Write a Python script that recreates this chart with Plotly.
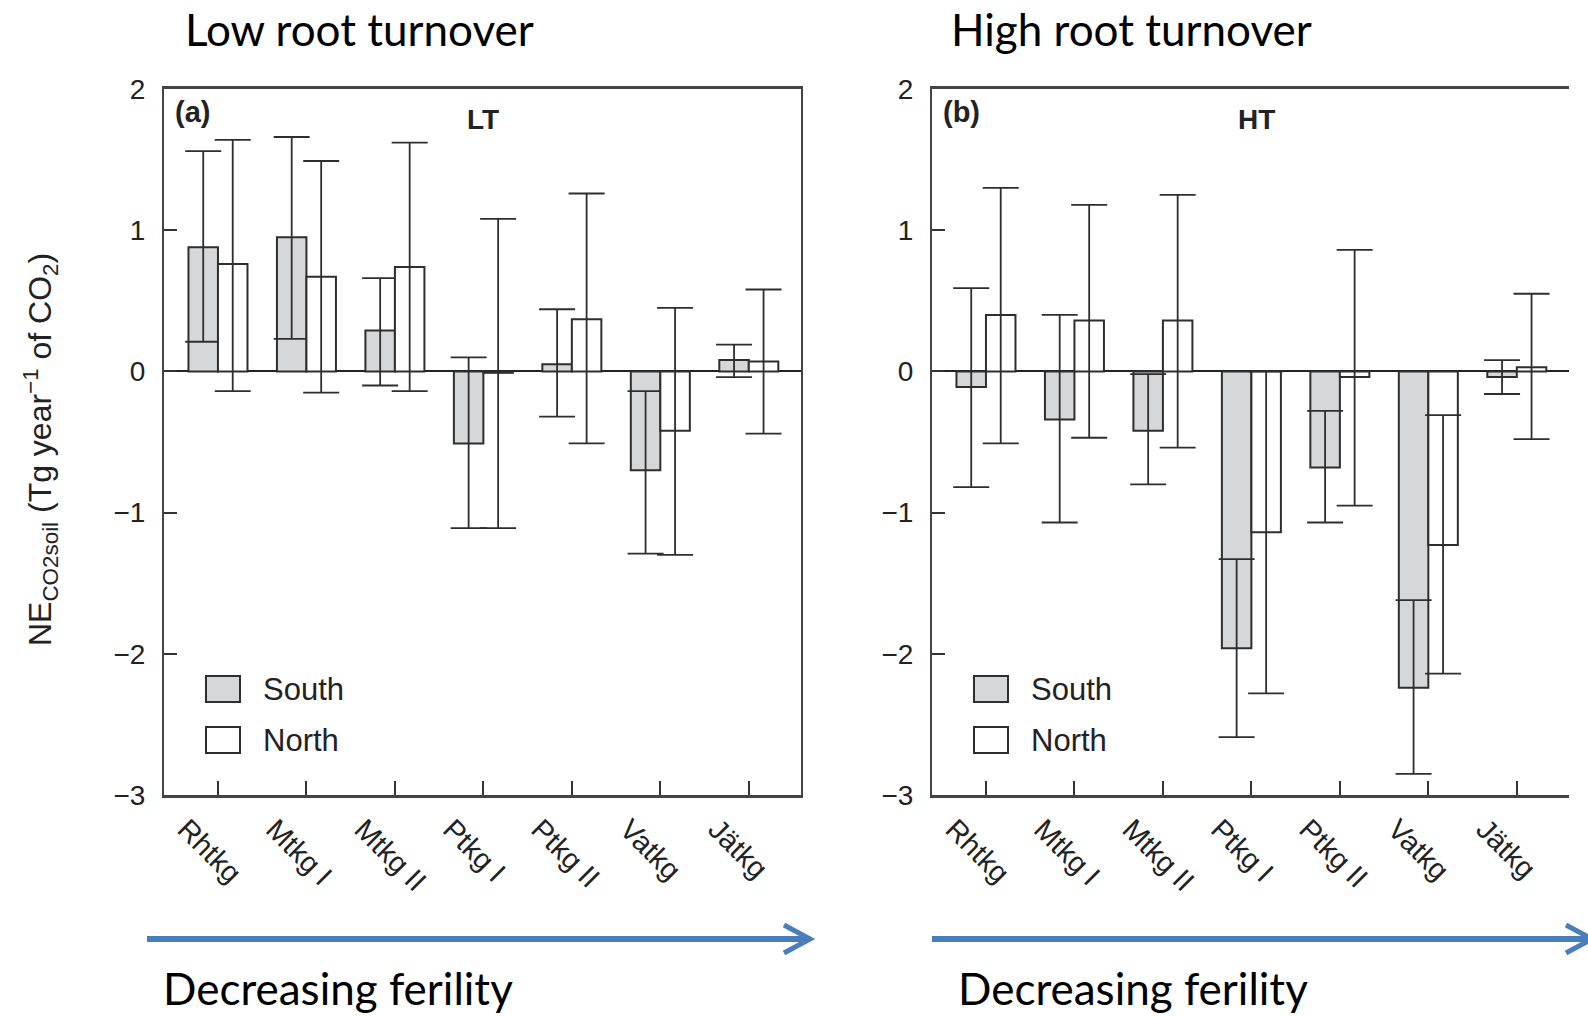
import plotly.graph_objects as go

categories = ["Rhtkg", "Mtkg I", "Mtkg II", "Ptkg I", "Ptkg II", "Vatkg", "Jätkg"]
y_ticks = [-3, -2, -1, 0, 1, 2]

# Panel (a) LT - low root turnover
lt_south = [0.88, 0.95, 0.29, -0.51, 0.05, -0.70, 0.08]
lt_south_hi = [1.56, 1.66, 0.66, 0.10, 0.44, -0.14, 0.19]
lt_south_lo = [0.21, 0.23, -0.10, -1.11, -0.32, -1.29, -0.04]
lt_north = [0.76, 0.67, 0.74, -0.01, 0.37, -0.42, 0.07]
lt_north_hi = [1.64, 1.49, 1.62, 1.08, 1.26, 0.45, 0.58]
lt_north_lo = [-0.14, -0.15, -0.14, -1.11, -0.51, -1.30, -0.44]

# Panel (b) HT - high root turnover
ht_south = [-0.11, -0.34, -0.42, -1.96, -0.68, -2.24, -0.04]
ht_south_hi = [0.59, 0.40, -0.02, -1.33, -0.28, -1.62, 0.08]
ht_south_lo = [-0.82, -1.07, -0.80, -2.59, -1.07, -2.85, -0.16]
ht_north = [0.40, 0.36, 0.36, -1.14, -0.04, -1.23, 0.03]
ht_north_hi = [1.30, 1.18, 1.25, 0.00, 0.86, -0.31, 0.55]
ht_north_lo = [-0.51, -0.47, -0.54, -2.28, -0.95, -2.14, -0.48]

W, H = 1588, 1017
FONT = "Arial, Liberation Sans, sans-serif"
TITLE_FONT = "Lato, Open Sans, sans-serif"
SOUTH_FILL = "#d6d7d9"
EDGE = "#2e2e2e"
ARROW = "#4a7dbb"


def px(x):
    return x / W


def py(y):
    return 1 - y / H


def bar_trace(vals, hi, lo, fill, name, xa, ya):
    plus = [h - v for h, v in zip(hi, vals)]
    minus = [v - l for v, l in zip(vals, lo)]
    return go.Bar(
        x=categories, y=vals, name=name, xaxis=xa, yaxis=ya,
        marker=dict(color=fill, line=dict(color=EDGE, width=2)),
        error_y=dict(type="data", symmetric=False, array=plus, arrayminus=minus,
                     color=EDGE, thickness=1.8, width=18),
        showlegend=False,
    )


fig = go.Figure()
fig.add_trace(bar_trace(lt_south, lt_south_hi, lt_south_lo, SOUTH_FILL, "South", "x", "y"))
fig.add_trace(bar_trace(lt_north, lt_north_hi, lt_north_lo, "white", "North", "x", "y"))
fig.add_trace(bar_trace(ht_south, ht_south_hi, ht_south_lo, SOUTH_FILL, "South", "x2", "y2"))
fig.add_trace(bar_trace(ht_north, ht_north_hi, ht_north_lo, "white", "North", "x2", "y2"))

xcommon = dict(
    type="category", range=[-0.61, 6.59], showline=True, linecolor="#444", linewidth=2.5,
    mirror=True, ticks="inside", ticklen=14, tickwidth=1.5, tickcolor="#333",
    tickangle=45, tickfont=dict(family=FONT, size=29, color="#222"),
    ticklabelshift=-32, ticklabelstandoff=3,
    showgrid=False, zeroline=False, automargin=False,
)
ycommon = dict(
    range=[-3, 2], tickvals=y_ticks, showline=True, linecolor="#444", linewidth=2,
    ticks="inside", ticklen=13, tickwidth=1.5, tickcolor="#333",
    tickfont=dict(family=FONT, size=28, color="#222"), ticklabelstandoff=11,
    showgrid=False, zeroline=True, zerolinecolor="#222", zerolinewidth=1.8,
    automargin=False,
)

ydom = [py(795), py(89)]
fig.update_layout(
    width=W, height=H, autosize=False,
    margin=dict(l=0, r=0, t=0, b=0, pad=0, autoexpand=False),
    paper_bgcolor="white", plot_bgcolor="white",
    barmode="group", bargap=0.333, bargroupgap=0,
    xaxis=dict(xcommon, domain=[px(164), px(801)], anchor="y"),
    yaxis=dict(ycommon, domain=ydom, anchor="x", mirror=True),
    xaxis2=dict(xcommon, domain=[px(932), px(1569)], anchor="y2"),
    yaxis2=dict(ycommon, domain=ydom, anchor="x2", mirror=False),
)

annotations = []
shapes = []


def txt(x, y, text, size, family=FONT, xanchor="left", bold=False, angle=0, color="#111"):
    annotations.append(dict(
        x=px(x), y=py(y), xref="paper", yref="paper", text=("<b>%s</b>" % text) if bold else text,
        showarrow=False, xanchor=xanchor, yanchor="middle", textangle=angle,
        font=dict(family=family, size=size, color=color),
    ))


# headers and footers
txt(183, 29, "Low root turnover", 44, TITLE_FONT, color="black")
txt(949, 29, "High root turnover", 44, TITLE_FONT, color="black")
txt(161, 988, "Decreasing ferility", 44, TITLE_FONT, color="black")
txt(956, 988, "Decreasing ferility", 44, TITLE_FONT, color="black")

# panel labels
txt(173, 112, "(a)", 29, bold=True, color="#222")
txt(483, 119, "LT", 28, xanchor="center", bold=True, color="#222")
txt(941, 112, "(b)", 29, bold=True, color="#222")
txt(1256, 119, "HT", 28, xanchor="center", bold=True, color="#222")

# y axis title
txt(40, 450, "NE<sub>CO2soil</sub> (Tg year<sup>−1</sup> of CO<sub>2</sub>)", 32,
    xanchor="center", angle=-90, color="#222")

# legends
for x0 in (164, 932):
    for (y0, fill, label) in ((676, SOUTH_FILL, "South"), (727, "white", "North")):
        shapes.append(dict(type="rect", xref="paper", yref="paper",
                           x0=px(x0 + 42), x1=px(x0 + 76), y0=py(y0), y1=py(y0 + 26),
                           fillcolor=fill, line=dict(color=EDGE, width=2)))
        txt(x0 + 97, y0 + 13, label, 31, color="#222")

# fertility arrows
for (x0, x1) in ((147, 810), (932, 1592)):
    shapes.append(dict(type="line", xref="paper", yref="paper",
                       x0=px(x0), x1=px(x1 - 3), y0=py(939), y1=py(939),
                       line=dict(color=ARROW, width=6)))
    shapes.append(dict(type="path", xref="paper", yref="paper",
                       path="M %f,%f L %f,%f L %f,%f" % (px(x1 - 26), py(925), px(x1), py(939),
                                                         px(x1 - 26), py(953)),
                       line=dict(color=ARROW, width=5)))

fig.update_layout(annotations=annotations, shapes=shapes)

fig.write_html("out.html", config={"displayModeBar": False},
               post_script="document.body.style.margin='0';document.body.style.overflow='hidden';")
